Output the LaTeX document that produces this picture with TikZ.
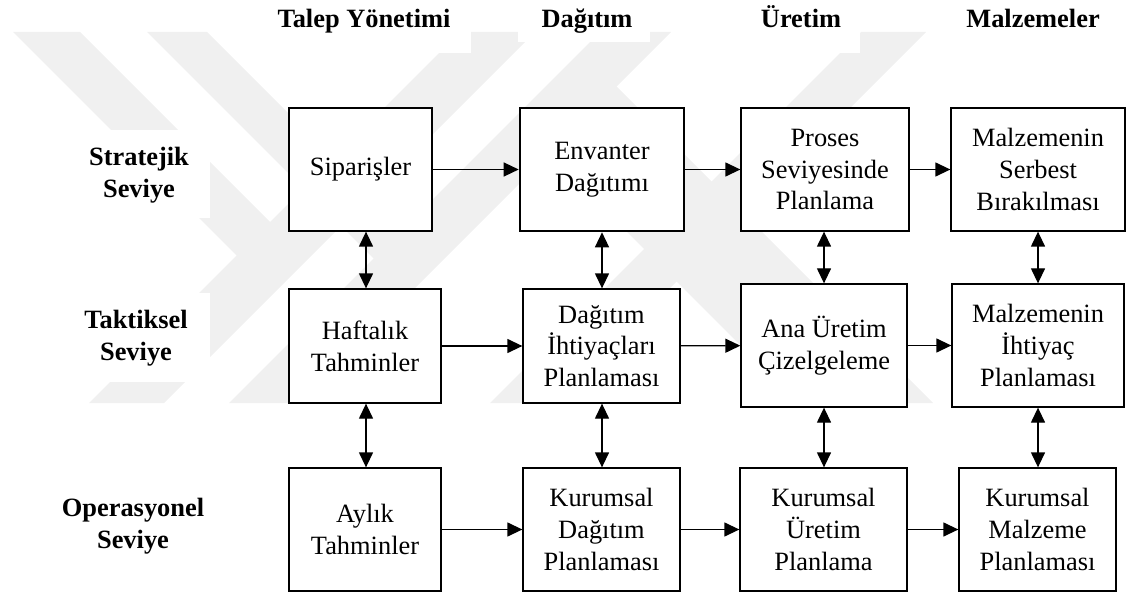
\documentclass[tikz,border=0pt]{standalone}
\usepackage{fontspec}
\setmainfont{Liberation Serif}
\usetikzlibrary{arrows.meta}
\definecolor{wmgray}{RGB}{240,240,240}
\begin{document}
\begin{tikzpicture}[x=0.5pt,y=-0.5pt,
  box/.style={draw=black, fill=white, line width=0.65pt, align=center, inner sep=0pt,
    font=\fontsize{13.2}{15.9}\selectfont},
  thickbox/.style={box, line width=1.3pt},
  lvl/.style={align=center, inner sep=0pt, font=\bfseries\fontsize{13.2}{15.9}\selectfont},
  head/.style={anchor=base, inner sep=0pt, font=\bfseries\fontsize{13.2}{15.9}\selectfont},
  flow/.style={line width=0.65pt, -{Triangle[length=7.5pt,width=7pt]}},
  link/.style={line width=0.65pt, {Triangle[length=7.5pt,width=7pt]}-{Triangle[length=7.5pt,width=7pt]}},
  wmband/.style={fill=wmgray, draw=none},
  cover/.style={fill=white, draw=none}
]
\useasboundingbox (0,0) rectangle (1129,593);

% faint background emblem
\fill[wmband] (89,403) -- (164,403) -- (535,32) -- (460,32) -- cycle;
\fill[wmband] (229,403) -- (300,403) -- (671,32) -- (600,32) -- cycle;
\fill[wmband] (490,403) -- (555,403) -- (926,32) -- (861,32) -- cycle;
\fill[wmband] (13,32) -- (80,32) -- (289,241) -- (255.5,274.5) -- cycle;
\fill[wmband] (147,32) -- (207,32) -- (421,246) -- (391,276) -- cycle;
\fill[wmband] (531,136) -- (598.5,68.5) -- (933,403) -- (798,403) -- cycle;

% white patches behind the titles
\fill[cover] (240,0) rectangle (471,53);
\fill[cover] (518,0) rectangle (650,42);
\fill[cover] (738,0) rectangle (860,53);
\fill[cover] (100,130) rectangle (210,218);
\fill[cover] (85,293) rectangle (210,382);

% column titles
\node[head] (h1) at (364,28) {Talep Yönetimi};
\node[head] (h2) at (587,28) {Dağıtım};
\node[head] (h3) at (801,28) {Üretim};
\node[head] (h4) at (1033,28) {Malzemeler};

% level titles
\node[lvl] (l1) at (139,175) {Stratejik\\Seviye};
\node[lvl] (l2) at (136,338) {Taktiksel\\Seviye};
\node[lvl] (l3) at (133,526) {Operasyonel\\Seviye};

% strategic row
\node[box, minimum width=71.5pt, minimum height=61.5pt] (s1) at (360.5,169.5) {Siparişler};
\node[thickbox, minimum width=82pt, minimum height=61.5pt] (s2) at (602,169.5) {Envanter\\Dağıtımı};
\node[box, minimum width=84pt, minimum height=61.5pt] (s3) at (825,169.5) {Proses\\Seviyesinde\\Planlama};
\node[box, minimum width=87pt, minimum height=61.5pt] (s4) at (1038,169.5) {Malzemenin\\Serbest\\Bırakılması};

% tactical row
\node[box, minimum width=76pt, minimum height=57pt] (t1) at (365,346) {Haftalık\\Tahminler};
\node[box, minimum width=78.5pt, minimum height=57pt] (t2) at (601.5,346) {Dağıtım\\İhtiyaçları\\Planlaması};
\node[box, minimum width=83pt, minimum height=61.5pt] (t3) at (824,345.5) {Ana Üretim\\Çizelgeleme};
\node[box, minimum width=86pt, minimum height=61.5pt] (t4) at (1038,345.5) {Malzemenin\\İhtiyaç\\Planlaması};

% operational row
\node[box, minimum width=76pt, minimum height=61.5pt] (o1) at (365,529.5) {Aylık\\Tahminler};
\node[box, minimum width=78.5pt, minimum height=61.5pt] (o2) at (601.5,529.5) {Kurumsal\\Dağıtım\\Planlaması};
\node[box, minimum width=83.5pt, minimum height=61.5pt] (o3) at (823.5,529.5) {Kurumsal\\Üretim\\Planlama};
\node[box, minimum width=78.5pt, minimum height=61.5pt] (o4) at (1037.5,529.5) {Kurumsal\\Malzeme\\Planlaması};

% horizontal flows
\draw[flow] (s1) -- (s2);
\draw[flow] (s2) -- (s3);
\draw[flow] (s3) -- (s4);
\draw[flow] (t1) -- (t2);
\draw[flow] (t2) -- (t3);
\draw[flow] (t3) -- (t4);
\draw[flow] (o1) -- (o2);
\draw[flow] (o2) -- (o3);
\draw[flow] (o3) -- (o4);

% vertical links between levels
\coordinate (c1) at (366,0);
\coordinate (c2) at (602,0);
\coordinate (c3) at (824,0);
\coordinate (c4) at (1038,0);
\draw[link] (s1.south -| c1) -- (t1.north -| c1);
\draw[link] (t1.south -| c1) -- (o1.north -| c1);
\draw[link] (s2.south -| c2) -- (t2.north -| c2);
\draw[link] (t2.south -| c2) -- (o2.north -| c2);
\draw[link] (s3.south -| c3) -- (t3.north -| c3);
\draw[link] (t3.south -| c3) -- (o3.north -| c3);
\draw[link] (s4.south -| c4) -- (t4.north -| c4);
\draw[link] (t4.south -| c4) -- (o4.north -| c4);
\end{tikzpicture}
\end{document}
